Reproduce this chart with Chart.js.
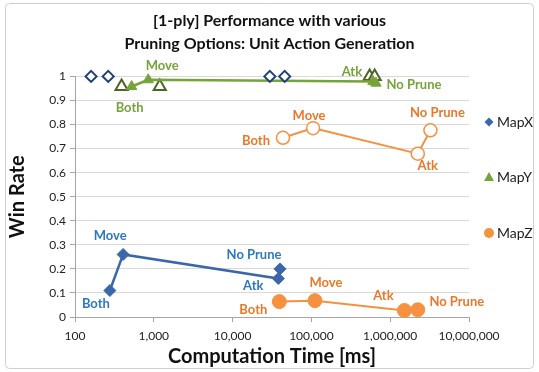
<!DOCTYPE html>
<html>
<head>
<meta charset="utf-8">
<title>Pruning Options</title>
<script src="https://cdn.jsdelivr.net/npm/chart.js"></script>
<style>
  html, body { margin: 0; padding: 0; background: #fff; }
  #wrap { width: 539px; height: 372px; position: relative; }
</style>
</head>
<body>
<div id="wrap"><canvas id="perfChart"></canvas></div>
<script>
// values
const pointNames = ['Both', 'Move', 'Atk', 'No Prune'];

const mapXTime = [277, 408, 38000, 40000];
const mapXRate = [0.11, 0.26, 0.16, 0.20];
const mapXRefTime = [160, 264, 29700, 45800];
const mapXRefRate = [1, 1, 1, 1];

const mapYTime = [523, 850, 604000, 660000];
const mapYRate = [0.958, 0.986, 0.979, 0.972];
const mapYRefTime = [390, 1190, 548000, 635000];
const mapYRefRate = [0.958, 0.958, 1, 1];

const mapZTime = [39200, 111000, 1515000, 2240000];
const mapZRate = [0.064, 0.068, 0.027, 0.030];
const mapZRefTime = [43600, 105000, 2240000, 3240000];
const mapZRefRate = [0.745, 0.785, 0.679, 0.776];

const xTickValues = [100, 1000, 10000, 100000, 1000000, 10000000];
const xTickLabels = ['100', '1,000', '10,000', '100,000', '1,000,000', '10,000,000'];
const yTickValues = [0, 0.1, 0.2, 0.3, 0.4, 0.5, 0.6, 0.7, 0.8, 0.9, 1];
const yTickLabels = ['0', '0.1', '0.2', '0.3', '0.4', '0.5', '0.6', '0.7', '0.8', '0.9', '1'];

const seriesNames = ['MapX', 'MapY', 'MapZ'];

function pts(xs, ys) {
  return xs.map((x, i) => ({x: x, y: ys[i]}));
}

const FONT = 'Lato, "Open Sans", sans-serif';
const BLUE = '#3A66AA', BLUE_TXT = '#2E78C2', NAVY = '#1F3F78';
const GREEN = '#77A33B', OLIVE = '#4F6228';
const ORANGE = '#F5913F', ORANGE_TXT = '#E9782A';

const datasets = [
  {
    label: seriesNames[0], data: pts(mapXTime, mapXRate), showLine: true,
    borderColor: BLUE, backgroundColor: BLUE, borderWidth: 2.5,
    pointStyle: 'rectRot', pointRadius: 6, pointBorderWidth: 1,
    inLegend: true, pointLabels: pointNames, labelColor: BLUE_TXT,
    labelOffsets: [[-14, 13], [-13, -19], [-25, 7], [-26, -14]]
  },
  {
    label: 'MapX ref', data: pts(mapXRefTime, mapXRefRate), showLine: false,
    borderColor: NAVY, backgroundColor: '#fff', pointBorderWidth: 2,
    pointStyle: 'rectRot', pointRadius: 5.5
  },
  {
    label: seriesNames[1], data: pts(mapYTime, mapYRate), showLine: true,
    borderColor: GREEN, backgroundColor: GREEN, borderWidth: 2.5,
    pointStyle: 'triangle', pointRadius: 6, pointBorderWidth: 1,
    inLegend: true, pointLabels: pointNames, labelColor: GREEN,
    labelOffsets: [[-2, 21], [14, -14], [-21, -10], [38, 2]]
  },
  {
    label: 'MapY ref', data: pts(mapYRefTime, mapYRefRate), showLine: false,
    borderColor: OLIVE, backgroundColor: '#fff', pointBorderWidth: 2,
    pointStyle: 'triangle', pointRadius: 7
  },
  {
    label: seriesNames[2], data: pts(mapZTime, mapZRate), showLine: true,
    borderColor: ORANGE, backgroundColor: ORANGE, borderWidth: 2,
    pointStyle: 'circle', pointRadius: 7, pointBorderWidth: 1,
    inLegend: true, pointLabels: pointNames, labelColor: ORANGE_TXT,
    labelOffsets: [[-26, 8], [11, -18], [-21, -15], [39, -8]]
  },
  {
    label: 'MapZ ref', data: pts(mapZRefTime, mapZRefRate), showLine: true,
    borderColor: ORANGE, backgroundColor: '#fff', borderWidth: 2,
    pointStyle: 'circle', pointRadius: 6.5, pointBorderWidth: 1.5,
    pointLabels: pointNames, labelColor: ORANGE_TXT,
    labelOffsets: [[-27, 3], [-4, -12], [10, 12], [7, -17]]
  }
];
datasets.forEach(ds => { ds.clip = false; });

// frame around the whole chart
const framePlugin = {
  id: 'frame',
  beforeDraw(chart) {
    const ctx = chart.ctx;
    ctx.save();
    ctx.strokeStyle = '#D0D0D0';
    ctx.lineWidth = 1;
    ctx.beginPath();
    ctx.roundRect(5.5, 3.5, 528, 365, 4);
    ctx.stroke();
    ctx.restore();
  }
};

// text next to the points
const pointLabelPlugin = {
  id: 'pointLabels',
  afterDatasetsDraw(chart) {
    const ctx = chart.ctx;
    ctx.save();
    ctx.font = 'bold 13px ' + FONT;
    ctx.textAlign = 'center';
    ctx.textBaseline = 'middle';
    chart.data.datasets.forEach((ds, di) => {
      if (!ds.pointLabels) return;
      const meta = chart.getDatasetMeta(di);
      ctx.fillStyle = ds.labelColor;
      meta.data.forEach((el, i) => {
        const off = ds.labelOffsets[i];
        ctx.fillText(ds.pointLabels[i], el.x + off[0], el.y + off[1]);
      });
    });
    ctx.restore();
  }
};

// legend on the right, widely spaced like the original
const sideLegendPlugin = {
  id: 'sideLegend',
  afterDraw(chart) {
    const ctx = chart.ctx;
    const rows = [122, 177, 233];
    const mx = 489;
    ctx.save();
    ctx.font = '14px ' + FONT;
    ctx.textBaseline = 'middle';
    ctx.textAlign = 'left';
    let k = 0;
    chart.data.datasets.forEach(ds => {
      if (!ds.inLegend) return;
      const y = rows[k++];
      ctx.fillStyle = ds.backgroundColor;
      ctx.beginPath();
      if (ds.pointStyle === 'rectRot') {
        ctx.moveTo(mx, y - 4.5); ctx.lineTo(mx + 4.5, y); ctx.lineTo(mx, y + 4.5); ctx.lineTo(mx - 4.5, y);
      } else if (ds.pointStyle === 'triangle') {
        ctx.moveTo(mx, y - 5); ctx.lineTo(mx + 5, y + 4); ctx.lineTo(mx - 5, y + 4);
      } else {
        ctx.arc(mx, y, 5, 0, Math.PI * 2);
      }
      ctx.closePath();
      ctx.fill();
      ctx.fillStyle = '#222';
      ctx.fillText(ds.label, mx + 8, y);
    });
    ctx.restore();
  }
};

new Chart(document.getElementById('perfChart'), {
  type: 'scatter',
  data: { datasets: datasets },
  plugins: [framePlugin, pointLabelPlugin, sideLegendPlugin],
  options: {
    responsive: true,
    maintainAspectRatio: false,
    animation: false,
    events: [],
    layout: { padding: { left: 6, right: 6, top: 0, bottom: 0 } },
    plugins: {
      legend: { display: false },
      tooltip: { enabled: false },
      title: {
        display: true,
        text: ['[1-ply] Performance with various', 'Pruning Options: Unit Action Generation'],
        color: '#111',
        font: { family: FONT, size: 16, weight: 'bold', lineHeight: 1.45 },
        padding: { top: 9, bottom: 21 }
      }
    },
    scales: {
      x: {
        type: 'logarithmic',
        min: 100,
        max: 10000000,
        afterBuildTicks(scale) {
          scale.ticks = xTickValues.map(v => ({ value: v, major: true }));
        },
        afterFit(scale) { scale.height = 55; },
        ticks: {
          autoSkip: false,
          maxRotation: 0,
          padding: 7,
          color: '#222',
          font: { family: FONT, size: 12 },
          callback: (v) => xTickLabels[xTickValues.indexOf(v)]
        },
        grid: { drawOnChartArea: false, drawTicks: true, tickLength: 5, color: '#A6A6A6' },
        border: { color: '#A6A6A6' },
        title: {
          display: true,
          text: 'Computation Time [ms]',
          color: '#111',
          font: { family: FONT, size: 20, weight: 'bold', lineHeight: 1.2 },
          padding: { top: 0, bottom: 3 }
        }
      },
      y: {
        min: 0,
        max: 1,
        afterBuildTicks(scale) {
          scale.ticks = yTickValues.map(v => ({ value: v }));
        },
        afterFit(scale) { scale.width = 69; },
        ticks: {
          padding: 4,
          color: '#222',
          font: { family: FONT, size: 12 },
          callback: (v) => yTickLabels[yTickValues.findIndex(t => Math.abs(t - v) < 1e-9)]
        },
        grid: { color: '#D9D9D9', tickColor: '#A6A6A6', tickLength: 5 },
        border: { color: '#A6A6A6' },
        title: {
          display: true,
          text: 'Win Rate',
          color: '#111',
          font: { family: FONT, size: 20, weight: 'bold', lineHeight: 1.2 },
          padding: { top: 0, bottom: 12 }
        }
      },
      // empty right-hand axis that only keeps room for the legend
      legendRoom: {
        position: 'right',
        display: true,
        afterFit(scale) { scale.width = 64; },
        grid: { display: false },
        border: { display: false },
        ticks: { display: false }
      }
    }
  }
});
</script>
</body>
</html>
